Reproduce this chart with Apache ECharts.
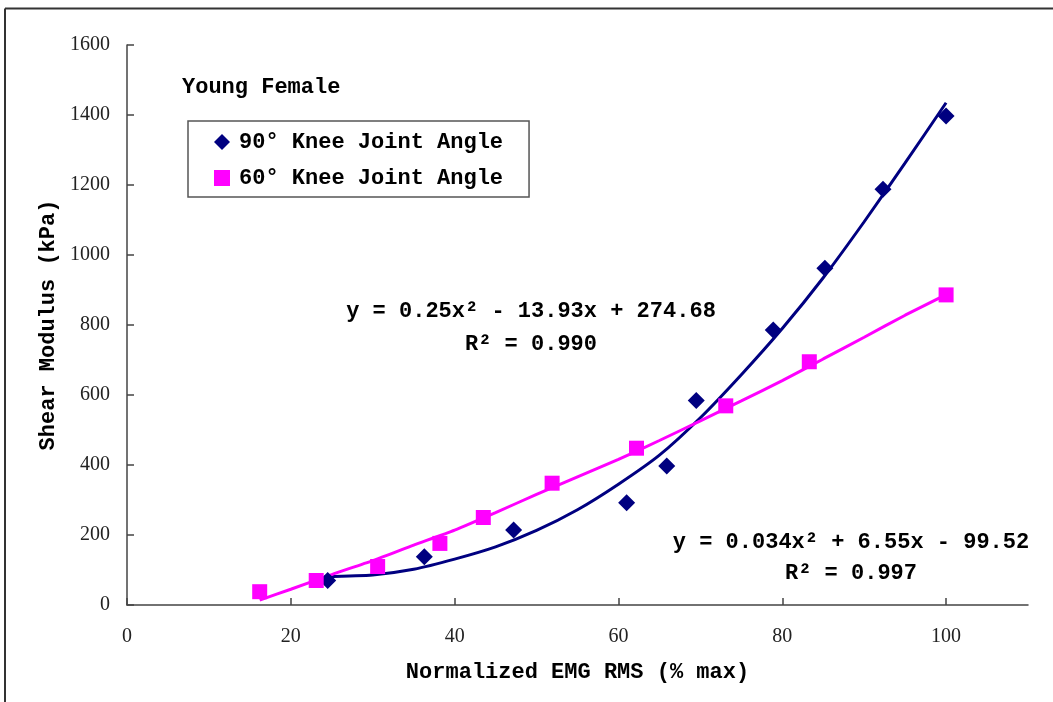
<!DOCTYPE html>
<html>
<head>
<meta charset="utf-8">
<script src="https://cdn.jsdelivr.net/npm/echarts@6/dist/echarts.min.js"></script>
<style>
  html, body { margin: 0; padding: 0; background: #fff; }
  #chart { width: 1053px; height: 702px; }
</style>
</head>
<body>
<div id="chart"></div>
<script>
// Measured points: normalized EMG RMS (% max) vs shear modulus (kPa)
const emg90 = [24.5, 36.3, 47.2, 61.0, 65.9, 69.5, 78.9, 85.2, 92.3, 100.0];
const shear90 = [70, 138, 214, 292, 397, 584, 786, 962, 1188, 1397];
const emg60 = [16.2, 23.1, 30.6, 38.2, 43.5, 51.9, 62.2, 73.1, 83.3, 100.0];
const shear60 = [38, 70, 110, 176, 250, 348, 448, 569, 695, 886];

// Polynomial trend curves sampled along x
const trend90X = [24.1, 30, 35, 40, 45, 50, 55, 60, 65, 70, 75, 80, 85, 90, 95, 100];
const trend90Y = [81, 86, 102, 131, 166, 213, 272, 345, 428, 535, 658, 790, 935, 1095, 1263, 1435];
const trend60X = [16.2, 20, 25, 30, 35, 40, 45, 50, 55, 60, 65, 70, 75, 80, 85, 90, 95, 100];
const trend60Y = [14, 45, 87, 127, 171, 214, 264, 316, 366, 416, 470, 526, 583, 641, 703, 765, 828, 887];

const legendNames = ['90° Knee Joint Angle', '60° Knee Joint Angle'];
const fitLabels90 = ['y = 0.25x² - 13.93x + 274.68', 'R² = 0.990'];
const fitLabels60 = ['y = 0.034x² + 6.55x - 99.52', 'R² = 0.997'];
const panelTitle = 'Young Female';
const xName = 'Normalized EMG RMS (% max)';
const yName = 'Shear Modulus (kPa)';

const NAVY = '#000080';
const MAGENTA = '#FF00FF';
const MONO = '"Liberation Mono", "DejaVu Sans Mono", monospace';
const SERIF = '"Liberation Serif", "DejaVu Serif", serif';

const zip = (xs, ys) => xs.map((x, i) => [x, ys[i]]);

const chart = echarts.init(document.getElementById('chart'), null, { renderer: 'canvas' });

const monoText = (text, x, y, align) => ({
  type: 'text',
  x: x, y: y,
  style: {
    text: text,
    font: 'bold 22px ' + MONO,
    fill: '#000',
    textAlign: align || 'center',
    textVerticalAlign: 'middle'
  }
});

chart.setOption({
  animation: false,
  backgroundColor: '#fff',
  grid: { left: 127, top: 45, right: 25, bottom: 97, containLabel: false },
  xAxis: {
    type: 'value',
    min: 0, max: 110, interval: 20,
    name: xName,
    nameLocation: 'middle',
    nameGap: 56,
    nameTextStyle: { fontFamily: MONO, fontWeight: 'bold', fontSize: 22, color: '#000' },
    axisLine: { lineStyle: { color: '#444', width: 1.5 } },
    axisTick: { inside: true, length: 7, lineStyle: { color: '#444', width: 1.5 } },
    axisLabel: { fontFamily: SERIF, fontSize: 20, color: '#222', margin: 22, showMaxLabel: false },
    splitLine: { show: false }
  },
  yAxis: {
    type: 'value',
    min: 0, max: 1600, interval: 200,
    name: yName,
    nameLocation: 'middle',
    nameGap: 68,
    nameTextStyle: { fontFamily: MONO, fontWeight: 'bold', fontSize: 22, color: '#000' },
    axisLine: { show: true, lineStyle: { color: '#444', width: 1.5 } },
    axisTick: { show: true, inside: true, length: 7, lineStyle: { color: '#444', width: 1.5 } },
    axisLabel: { fontFamily: SERIF, fontSize: 20, color: '#222', margin: 17, formatter: (v) => String(v) },
    splitLine: { show: false }
  },
  legend: {
    data: legendNames,
    orient: 'vertical',
    left: 188, top: 121,
    padding: [10, 26, 8, 26],
    itemGap: 14,
    itemWidth: 16, itemHeight: 16,
    borderColor: '#555', borderWidth: 1.5,
    backgroundColor: '#fff',
    textStyle: { fontFamily: MONO, fontWeight: 'bold', fontSize: 22, color: '#000', padding: [0, 0, 0, 4] }
  },
  series: [
    {
      type: 'line', name: 'trend90',
      data: zip(trend90X, trend90Y),
      smooth: 0.2, showSymbol: false, symbol: 'none',
      lineStyle: { color: NAVY, width: 3 },
      z: 2, silent: true
    },
    {
      type: 'line', name: 'trend60',
      data: zip(trend60X, trend60Y),
      smooth: 0.2, showSymbol: false, symbol: 'none',
      lineStyle: { color: MAGENTA, width: 3 },
      z: 2, silent: true
    },
    {
      type: 'scatter', name: legendNames[0],
      data: zip(emg90, shear90),
      symbol: 'diamond', symbolSize: 17,
      itemStyle: { color: NAVY, opacity: 1 },
      z: 3
    },
    {
      type: 'scatter', name: legendNames[1],
      data: zip(emg60, shear60),
      symbol: 'rect', symbolSize: 15,
      itemStyle: { color: MAGENTA, opacity: 1 },
      z: 3
    }
  ],
  graphic: [
    // frame edges
    { type: 'line', shape: { x1: 5, y1: 8.5, x2: 1053, y2: 8.5 }, style: { stroke: '#333', lineWidth: 2 }, z: 10 },
    { type: 'line', shape: { x1: 5, y1: 8.5, x2: 5, y2: 702 }, style: { stroke: '#333', lineWidth: 2 }, z: 10 },
    monoText(panelTitle, 182, 87, 'left'),
    monoText(fitLabels90[0], 531, 311),
    monoText(fitLabels90[1], 531, 344),
    monoText(fitLabels60[0], 851, 542),
    monoText(fitLabels60[1], 851, 573)
  ]
});
</script>
</body>
</html>
